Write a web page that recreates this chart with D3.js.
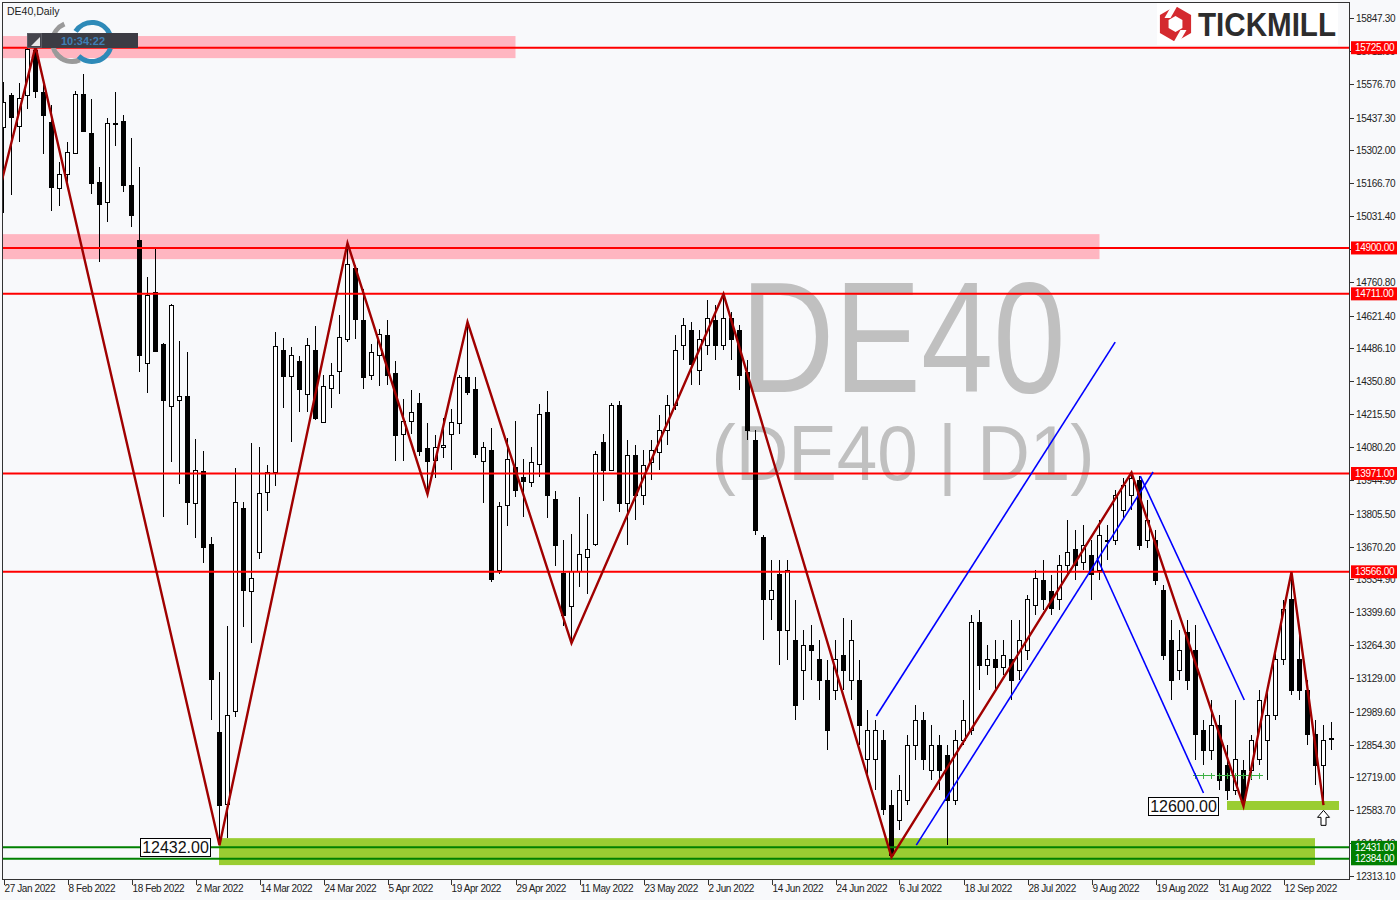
<!DOCTYPE html>
<html><head><meta charset="utf-8">
<script src="https://cdn.jsdelivr.net/npm/d3@7"></script>
<style>body{margin:0;background:#F8F9FB}svg{display:block}</style>
</head><body><svg id="c" width="1400" height="900"></svg>
<script>
// ---------- DATA ----------
const opens=[15398,15530,15399,15527,15712,15542,15418,15147,15204,15291,15534,15373,15171,15089,15412,15423,15159,14932,14426,14718,14504,14245,14273,14290,13849,13981,13680,12906,12609,12992,13828,13483,13647,13894,13977,14479,14372,14434,14298,14479,14183,14323,14393,14521,14817,14603,14376,14459,14541,14381,14133,14187,14261,14072,14026,14080,14133,14179,14368,14315,14022,14067,13573,13841,13997,13956,13932,14010,14224,13862,13561,13425,13569,13623,13680,14100,13985,14253,
13849,14047,13882,14018,14059,14150,14253,14500,14562,14397,14500,14603,14500,14611,14562,14389,14109,13709,13450,13553,13326,13285,13161,13264,13203,13120,13079,13223,13120,13120,12791,12791,12873,12605,12543,12626,12852,12955,12749,12852,12811,12626,12873,12914,13359,13182,13203,13170,13203,13161,13244,13429,13532,13483,13450,13594,13656,13606,13635,13573,13697,13697,13820,13882,13944,13697,13697,13491,13285,13161,13318,13244,12914,12832,12935,12770,12667,12749,12749,12791,12873,12976,13203,13450,13203,13079,12894,12770,12881];
const highs=[15583,15538,15579,15722,15730,15596,15488,15254,15336,15546,15616,15513,15233,15435,15542,15447,15353,15233,14780,14895,14508,14669,14516,14471,14113,14063,13709,13153,13342,13993,13853,14096,14080,14006,14553,14529,14492,14455,14529,14578,14376,14426,14624,14920,14830,14731,14504,14566,14603,14434,14278,14315,14302,14179,14129,14199,14236,14376,14595,14368,14100,14158,13853,14117,14187,14030,14080,14257,14311,13899,13697,13721,13874,13804,14063,14133,14261,14269,
14109,14088,14067,14109,14212,14294,14541,14611,14595,14562,14685,14665,14710,14636,14582,14438,14150,13717,13614,13614,13614,13450,13326,13347,13285,13203,13285,13375,13367,13203,12996,12955,12914,12667,12729,12894,13017,12988,12935,12894,12852,12914,13038,13388,13409,13264,13285,13285,13367,13367,13470,13573,13614,13553,13635,13779,13738,13758,13697,13779,13758,13903,13952,13977,13960,13862,13738,13511,13367,13326,13367,13347,12955,13038,12976,12852,13038,12791,12894,13079,13079,13244,13450,13565,13306,13120,12955,12935,12947];
const lows=[15044,15118,15336,15472,15517,15287,15052,15072,15167,15289,15377,15122,14842,15007,15320,15130,14986,14389,14302,14471,13791,14018,13927,13758,13705,13602,12955,12440,12469,12968,13338,13272,13618,13816,13919,14240,14100,14224,14224,14191,14179,14240,14298,14512,14525,14319,14356,14331,14335,14022,14022,14133,14043,13886,13952,14034,13985,14133,14294,14034,13849,13524,13557,13754,13874,13791,13915,13956,13787,13590,13342,13272,13503,13474,13672,13857,13985,13812,
13676,13779,13841,13944,13985,14088,14232,14438,14335,14335,14459,14438,14479,14438,14315,14109,13717,13285,13367,13182,13203,12955,13038,13120,13038,12832,13038,13079,13038,12852,12729,12667,12564,12391,12502,12605,12791,12749,12708,12667,12440,12605,12852,12894,13079,13141,13079,13141,13038,13120,13203,13388,13409,13388,13409,13553,13532,13573,13450,13532,13614,13676,13779,13820,13656,13664,13511,13203,13038,13120,13079,12791,12770,12791,12667,12626,12646,12601,12708,12770,12708,12955,13182,13058,13038,12852,12688,12605,12832];
const closes=[15501,15436,15516,15718,15543,15447,15151,15204,15295,15534,15381,15167,15081,15414,15408,15159,15035,14459,14706,14475,14273,14665,14290,13853,13985,13668,13124,12605,12976,13853,13491,13540,13890,13977,14496,14372,14459,14315,14500,14199,14331,14376,14533,14830,14607,14368,14471,14545,14376,14129,14187,14224,14063,14022,14080,14088,14183,14368,14306,14051,14080,13536,13837,14030,13903,13940,14018,14216,13882,13676,13388,13569,13639,13656,14051,13985,14253,13849,
14047,13882,14006,14067,14150,14253,14479,14582,14418,14521,14611,14500,14611,14521,14376,14150,13738,13450,13491,13326,13573,13017,13264,13244,13120,12914,13203,13161,13285,12935,12914,12914,12585,12399,12667,12852,12955,12791,12852,12749,12626,12873,12955,13359,13182,13203,13170,13223,13120,13285,13450,13540,13450,13417,13594,13647,13594,13676,13553,13717,13697,13882,13923,13952,13676,13779,13532,13223,13120,13244,13120,12894,12832,12935,12708,12667,12791,12626,12873,13038,12976,13203,13409,13079,13079,12894,12770,12873,12881];
const dateTicks=["27 Jan 2022","8 Feb 2022","18 Feb 2022","2 Mar 2022","14 Mar 2022","24 Mar 2022","5 Apr 2022","19 Apr 2022","29 Apr 2022","11 May 2022","23 May 2022","2 Jun 2022","14 Jun 2022","24 Jun 2022","6 Jul 2022","18 Jul 2022","28 Jul 2022","9 Aug 2022","19 Aug 2022","31 Aug 2022","12 Sep 2022"];
const barsPerTick=8;
const priceTicks=["15847.30","15712.00","15576.70","15437.30","15302.00","15166.70","15031.40","14896.10","14760.80","14621.40","14486.10","14350.80","14215.50","14080.20","13944.90","13805.50","13670.20","13534.90","13399.60","13264.30","13129.00","12989.60","12854.30","12719.00","12583.70","12448.40","12313.10"];
const resistLevels=[15725,14900,14711,13971,13566];
const supportLevels=[12431,12384];
// zigzag pivots: bar index, price
const zigIdx=[-3,4,27,43,53,58,71,90,111,141,155,161,165];
const zigPrice=[14810,15730,12440,14920,13886,14595,13272,14710,12391,13975,12601,13565,12605];
// blue trend lines: [barA, priceA, barB, priceB]
const blueLines=[[109.1,12972,138.96,14512],[114.1,12440,143.7,13977],[136.7,13623,150,12655],[142.1,13960,155.1,13038]];
// zones: [barFrom, barTo, priceTop, priceBottom]
const pinkZones=[[-1,64,15773,15682],[-1,137,14957,14854]];
const greenZones=[[27,164,12469,12358],[153,167,12622,12585]];
// small green level marks: [barFrom, barTo, price]
const greenMarks=[[149,151,12729],[152,157,12729]];
const priceTags=[{bar:27,price:12432,text:"12432.00"},{bar:152,price:12600,text:"12600.00"}];

// ---------- SCALES ----------
const svg=d3.select("#c");
const P={l:2,t:2,r:1350,b:880};
const x=d3.scaleLinear().domain([0,166]).range([3.5,1331.5]);
const y=d3.scaleLinear().domain([12296.6,15913.2]).range([880,2]);
const step=x(1)-x(0);
const fnt="Liberation Sans, Arial, sans-serif";

svg.append("rect").attr("width",1400).attr("height",900).attr("fill","#F8F9FB");
svg.append("defs").append("clipPath").attr("id","pc").append("rect")
  .attr("x",P.l).attr("y",P.t).attr("width",P.r-P.l).attr("height",P.b-P.t);
const g=svg.append("g").attr("clip-path","url(#pc)");

// watermark
g.append("text").attr("x",903).attr("y",392).attr("text-anchor","middle")
  .attr("font-family",fnt).attr("font-size",158)
  .attr("textLength",325).attr("lengthAdjust","spacingAndGlyphs")
  .attr("fill","#C0C0C0").text("DE40");
g.append("text").attr("x",903).attr("y",480).attr("text-anchor","middle")
  .attr("font-family",fnt).attr("font-size",78)
  .attr("textLength",383).attr("lengthAdjust","spacingAndGlyphs")
  .attr("fill","#C0C0C0").text("(DE40 | D1)");

// zones
g.selectAll(".pz").data(pinkZones).enter().append("rect")
  .attr("x",d=>x(d[0])).attr("width",d=>x(d[1])-x(d[0]))
  .attr("y",d=>y(d[2])).attr("height",d=>y(d[3])-y(d[2])).attr("fill","#FFB6C1");
g.selectAll(".gz").data(greenZones).enter().append("rect")
  .attr("x",d=>x(d[0])-0.5).attr("width",d=>x(d[1])-x(d[0]))
  .attr("y",d=>y(d[2])).attr("height",d=>y(d[3])-y(d[2])).attr("fill","#9ACD32");

// candles
const idx=d3.range(opens.length);
const cg=g.append("g").attr("shape-rendering","crispEdges");
cg.selectAll(".w").data(idx).enter().append("line")
  .attr("x1",i=>x(i)).attr("x2",i=>x(i))
  .attr("y1",i=>y(highs[i])).attr("y2",i=>y(lows[i])).attr("stroke","#000").attr("stroke-width",1);
cg.selectAll(".b").data(idx).enter().append("rect")
  .attr("x",i=>x(i)-2).attr("width",4)
  .attr("y",i=>y(Math.max(opens[i],closes[i])))
  .attr("height",i=>Math.max(1,Math.abs(y(opens[i])-y(closes[i]))))
  .attr("fill",i=>closes[i]>=opens[i]?"#fff":"#000").attr("stroke","#000").attr("stroke-width",1);

// horizontal levels
g.selectAll(".rl").data(resistLevels).enter().append("line")
  .attr("x1",P.l).attr("x2",P.r).attr("y1",d=>y(d)).attr("y2",d=>y(d))
  .attr("stroke","#FF0000").attr("stroke-width",2);
g.selectAll(".sl").data(supportLevels).enter().append("line")
  .attr("x1",P.l).attr("x2",P.r).attr("y1",d=>y(d)).attr("y2",d=>y(d))
  .attr("stroke","#008000").attr("stroke-width",2);

// small green marks
greenMarks.forEach(m=>{
  const yy=Math.round(y(m[2]))+0.5;
  g.append("line").attr("x1",x(m[0])-3).attr("x2",x(m[1])+3).attr("y1",yy).attr("y2",yy)
    .attr("stroke","#3CB043").attr("stroke-width",1).attr("shape-rendering","crispEdges");
  d3.range(m[0],m[1]+1).forEach(b=>{
    g.append("line").attr("x1",x(b)).attr("x2",x(b)).attr("y1",yy-3).attr("y2",yy+3)
      .attr("stroke","#3CB043").attr("stroke-width",1).attr("shape-rendering","crispEdges");
  });
});

// blue lines
g.selectAll(".bl").data(blueLines).enter().append("line")
  .attr("x1",d=>x(d[0])).attr("y1",d=>y(d[1])).attr("x2",d=>x(d[2])).attr("y2",d=>y(d[3]))
  .attr("stroke","#0000FF").attr("stroke-width",1.6);

// zigzag
g.append("path").datum(zigIdx.map((d,k)=>[d,zigPrice[k]]))
  .attr("d",d3.line().x(d=>x(d[0])).y(d=>y(d[1])))
  .attr("fill","none").attr("stroke","#A00000").attr("stroke-width",2.4).attr("stroke-linejoin","miter");

// up arrow at last pivot
const ax=x(165), ay=y(12600)+4;
g.append("path").attr("d",`M${ax},${ay} l6,7 h-3.5 v8 h-5 v-8 h-3.5 z`)
  .attr("fill","#fff").attr("stroke","#000").attr("stroke-width",1);

// price tags
priceTags.forEach(t=>{
  const r=t.bar===27? x(t.bar)-9 : x(t.bar)-1;
  const cy=y(t.price);
  g.append("rect").attr("x",r-70).attr("y",cy-9).attr("width",70).attr("height",18)
    .attr("fill","#fff").attr("stroke","#000").attr("stroke-width",1).attr("shape-rendering","crispEdges");
  g.append("text").attr("x",r-35).attr("y",cy+6).attr("text-anchor","middle")
    .attr("font-family",fnt).attr("font-size",16).attr("fill","#111").text(t.text);
});

// top-left overlays
svg.append("text").attr("x",7).attr("y",15).attr("font-family",fnt)
  .attr("font-size",10.5).attr("fill","#222").text("DE40,Daily");
const rg=svg.append("g");
rg.append("path").attr("d",d3.arc()({innerRadius:17,outerRadius:22,startAngle:-2.6,endAngle:-0.4})).attr("transform","translate(72,42)").attr("fill","#9A9A9A");
rg.append("path").attr("d",d3.arc()({innerRadius:17,outerRadius:22,startAngle:-2.2,endAngle:-3.55})).attr("transform","translate(72,42)").attr("fill","#9A9A9A");
rg.append("path").attr("d",d3.arc()({innerRadius:17,outerRadius:22,startAngle:-1.0,endAngle:1.2})).attr("transform","translate(92,42)").attr("fill","#2E8AB8");
rg.append("path").attr("d",d3.arc()({innerRadius:17,outerRadius:22,startAngle:1.9,endAngle:3.9})).attr("transform","translate(92,42)").attr("fill","#2E8AB8");
svg.append("rect").attr("x",27).attr("y",33).attr("width",111).attr("height",15).attr("fill","#3C3C44");
svg.append("rect").attr("x",27.5).attr("y",33.5).attr("width",14).attr("height",14).attr("fill","#45454D").attr("stroke","#5A5A62");
svg.append("path").attr("d","M40,37 L40,46 L31,46 Z").attr("fill","#E8E8E8");
svg.append("text").attr("x",83).attr("y",45).attr("text-anchor","middle").attr("font-family",fnt)
  .attr("font-size",11).attr("font-weight","bold").attr("fill","#3F7FB5").text("10:34:22");

// Tickmill logo
svg.append("rect").attr("x",1157).attr("y",3).attr("width",181).attr("height",42).attr("fill","#fff");
const hx=1175.5, hy=24, hr=18;
const hex=r=>d3.range(6).map(k=>{const a=Math.PI/3*k-Math.PI/2;return [hx+r*Math.cos(a),hy+r*Math.sin(a)];});
svg.append("path").attr("d","M"+hex(hr).join("L")+"Z M"+hex(8).reverse().join("L")+"Z").attr("fill","#D42A2F").attr("fill-rule","evenodd");
svg.append("path").attr("d",`M${hx-3},${hy-20} L${hx+3},${hy-20} L${hx-5},${hy-6} L${hx-11},${hy-6} Z`).attr("fill","#fff");
svg.append("path").attr("d",`M${hx+3},${hy+20} L${hx-3},${hy+20} L${hx+5},${hy+6} L${hx+11},${hy+6} Z`).attr("fill","#fff");
svg.append("text").attr("x",1198).attr("y",36).attr("font-family",fnt)
  .attr("font-size",33).attr("font-weight","bold").attr("textLength",138).attr("lengthAdjust","spacingAndGlyphs")
  .attr("fill","#2D2D2D").text("TICKMILL");

// frame
svg.append("rect").attr("x",P.l+0.5).attr("y",P.t+0.5).attr("width",P.r-P.l-1).attr("height",P.b-P.t-1)
  .attr("fill","none").attr("stroke","#333").attr("stroke-width",1).attr("shape-rendering","crispEdges");

// right axis
const ra=svg.append("g").attr("font-family",fnt).attr("font-size",10).attr("letter-spacing","-0.3px").attr("fill","#222");
priceTicks.forEach(t=>{
  const yy=Math.round(y(+t))+0.5;
  ra.append("line").attr("x1",P.r).attr("x2",P.r+4).attr("y1",yy).attr("y2",yy).attr("stroke","#333").attr("shape-rendering","crispEdges");
  ra.append("text").attr("x",P.r+6).attr("y",yy+3.5).text(t);
});
// bottom axis
const ba=svg.append("g").attr("font-family",fnt).attr("font-size",10).attr("letter-spacing","-0.4px").attr("fill","#222");
dateTicks.forEach((t,k)=>{
  const xx=Math.round(x(k*barsPerTick))+0.5;
  ba.append("line").attr("x1",xx).attr("x2",xx).attr("y1",P.b).attr("y2",P.b+5).attr("stroke","#333").attr("shape-rendering","crispEdges");
  ba.append("text").attr("x",xx).attr("y",P.b+12).text(t);
});
// level tags on axis
function tag(v,col){
  const yy=y(v);
  svg.append("rect").attr("x",P.r+1).attr("y",yy-6.5).attr("width",46).attr("height",13).attr("fill",col);
  svg.append("text").attr("x",P.r+5).attr("y",yy+3.5).attr("font-family",fnt).attr("font-size",10)
    .attr("letter-spacing","-0.3px").attr("fill","#fff").text(v.toFixed(2));
}
resistLevels.forEach(v=>tag(v,"#FF0000"));
supportLevels.forEach(v=>tag(v,"#007F00"));
</script></body></html>
